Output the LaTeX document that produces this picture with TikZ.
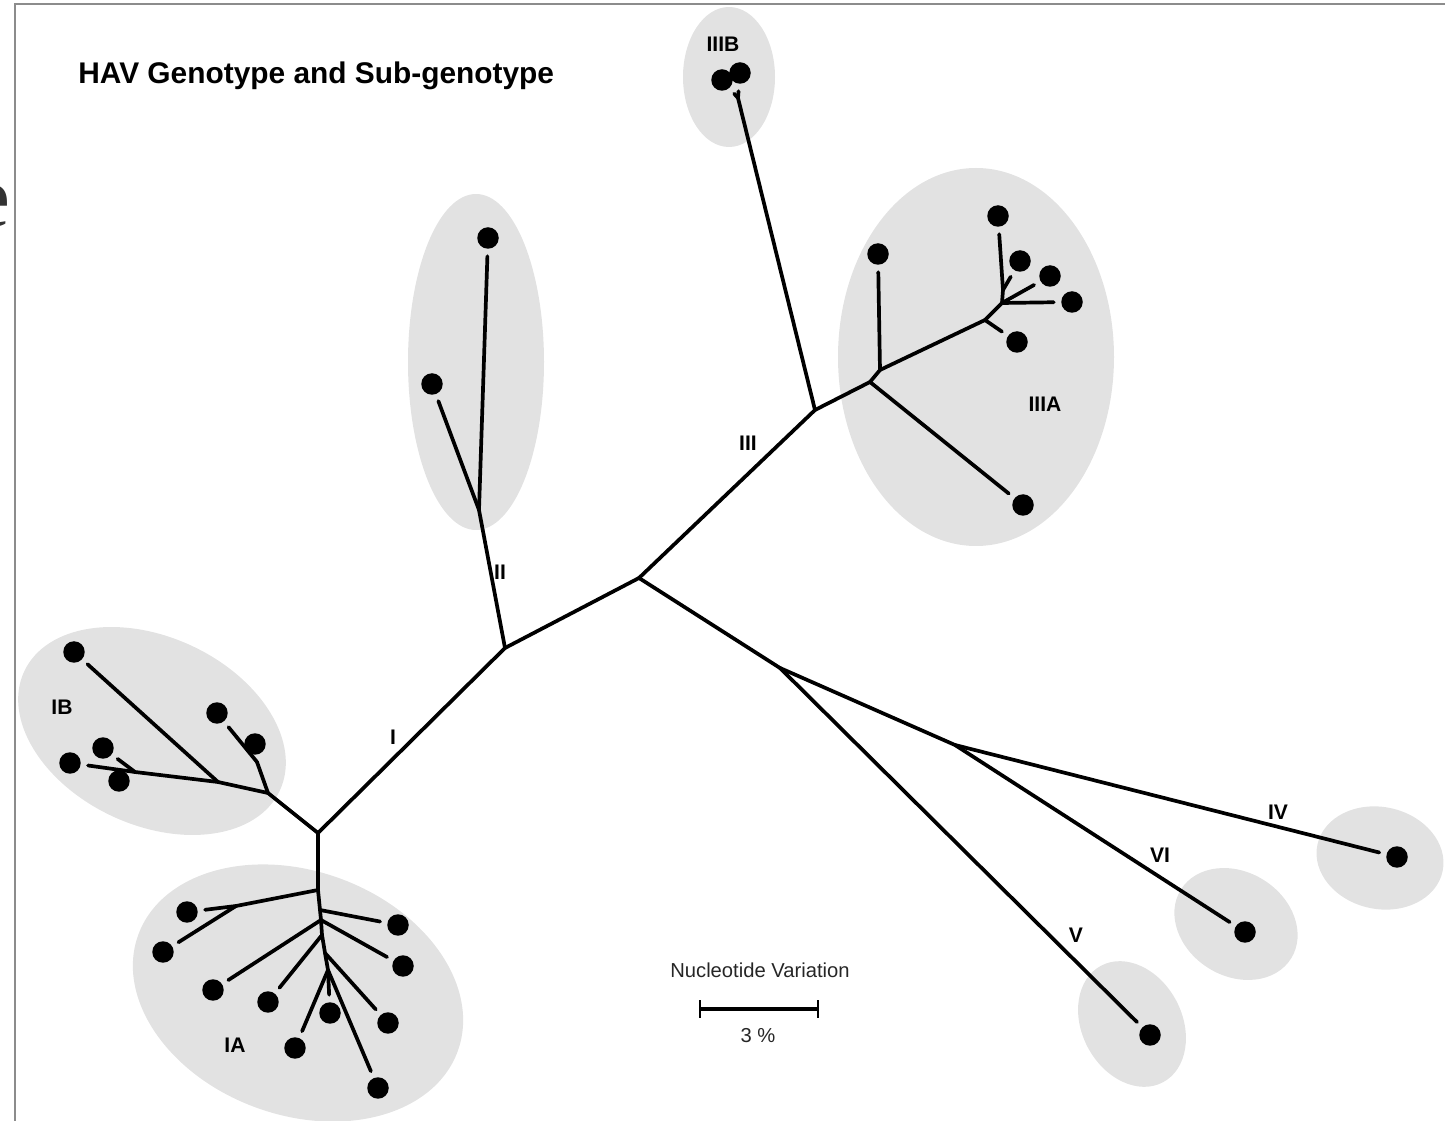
\documentclass[tikz,border=0pt]{standalone}
\usepackage{fontspec}
\setmainfont{Liberation Sans}
\newfontfamily\serifedge{Liberation Serif}
\definecolor{cladegray}{RGB}{226,226,226}
\definecolor{framegray}{RGB}{140,140,140}
\begin{document}
\begin{tikzpicture}[x=0.02cm,y=-0.02cm,
  clade/.style={fill=cladegray,draw=none},
  branch/.style={line width=0.074cm,black,line cap=round,line join=round},
  leaf/.style={circle,fill=black,inner sep=0pt,minimum size=0.43cm,outer sep=0.15cm},
  lab/.style={font=\bfseries\fontsize{12}{14}\selectfont,inner sep=0pt},
  note/.style={font=\fontsize{11.5}{13}\selectfont,inner sep=0pt,text=black!85},
  framerule/.style={draw=framegray,line width=0.05cm}]
\useasboundingbox (0,0) rectangle (1445,1121);

% frame
\draw[framerule] (15,1121) -- (15,4) -- (1445,4);
\begin{scope}
\clip (0,0) rectangle (14,1121);
\node[anchor=base east,inner sep=0pt,font=\serifedge\fontsize{50}{54}\selectfont,text=black!80] (edgee) at (11,227) {e};
\end{scope}

% clade shading
\fill[clade] (729,77) ellipse [x radius=46,y radius=70];
\fill[clade] (476,362) ellipse [x radius=68,y radius=168];
\fill[clade] (976,357) ellipse [x radius=138,y radius=189];
\fill[clade,rotate around={-25:(152,731)}] (152,731) ellipse [x radius=141,y radius=94];
\fill[clade,rotate around={-20:(298,993)}] (298,993) ellipse [x radius=170,y radius=122];
\fill[clade,rotate around={-12:(1380,858)}] (1380,858) ellipse [x radius=64,y radius=51];
\fill[clade,rotate around={-32:(1236,924)}] (1236,924) ellipse [x radius=65,y radius=52];
\fill[clade,rotate around={-62:(1132,1024)}] (1132,1024) ellipse [x radius=66,y radius=50];

% junctions
\coordinate (R1) at (318,833);
\coordinate (A) at (505,648);
\coordinate (C) at (639,578);
\coordinate (D) at (815,410);
\coordinate (IIj) at (479,510);
\coordinate (IIIBj) at (738,98);
\coordinate (D2) at (870,382);
\coordinate (D3) at (880,370);
\coordinate (D4) at (985,320);
\coordinate (D5) at (1002,303);
\coordinate (D6) at (1003,290);
\coordinate (E) at (780,668);
\coordinate (F) at (955,745);
\coordinate (IB1) at (268,793);
\coordinate (IB2) at (257,762);
\coordinate (IB3) at (218,782);
\coordinate (IB4) at (135,772);
\coordinate (s1) at (318,890);
\coordinate (s2) at (320,910);
\coordinate (s3) at (321,920);
\coordinate (s4) at (322,935);
\coordinate (s5) at (325,953);
\coordinate (s6) at (328,970);
\coordinate (ja) at (236,906);

% leaves
\node[leaf] (IIIB1) at (722,80) {};
\node[leaf] (IIIB2) at (740,73) {};
\node[leaf] (II1) at (488,238) {};
\node[leaf] (II2) at (432,384) {};
\node[leaf] (IIIA1) at (878,254) {};
\node[leaf] (IIIA2) at (998,216) {};
\node[leaf] (IIIA3) at (1020,261) {};
\node[leaf] (IIIA4) at (1050,276) {};
\node[leaf] (IIIA5) at (1072,302) {};
\node[leaf] (IIIA6) at (1017,342) {};
\node[leaf] (IIIA7) at (1023,505) {};
\node[leaf] (IV1) at (1397,857) {};
\node[leaf] (VI1) at (1245,932) {};
\node[leaf] (V1) at (1150,1035) {};
\node[leaf] (IB_1) at (74,652) {};
\node[leaf] (IB_2) at (217,713) {};
\node[leaf] (IB_3) at (255,744) {};
\node[leaf] (IB_4) at (103,748) {};
\node[leaf] (IB_5) at (70,763) {};
\node[leaf] (IB_6) at (119,781) {};
\node[leaf] (a1) at (187,912) {};
\node[leaf] (a2) at (163,952) {};
\node[leaf] (a3) at (398,925) {};
\node[leaf] (a4) at (403,966) {};
\node[leaf] (a5) at (213,990) {};
\node[leaf] (a6) at (268,1002) {};
\node[leaf] (a7) at (388,1023) {};
\node[leaf] (a8) at (295,1048) {};
\node[leaf] (a9) at (330,1013) {};
\node[leaf] (a10) at (378,1088) {};

% backbone
\draw[branch] (R1) -- (A);
\draw[branch] (A) -- (C);
\draw[branch] (C) -- (D);
\draw[branch] (A) -- (IIj);
\draw[branch] (C) -- (E);
\draw[branch] (E) -- (F);
% II
\draw[branch] (IIj) -- (II1);
\draw[branch] (IIj) -- (II2);
% III
\draw[branch] (D) -- (IIIBj);
\draw[branch] (IIIBj) -- (IIIB1);
\draw[branch] (IIIBj) -- (IIIB2);
\draw[branch] (D) -- (D2);
\draw[branch] (D2) -- (D3);
\draw[branch] (D2) -- (IIIA7);
\draw[branch] (D3) -- (IIIA1);
\draw[branch] (D3) -- (D4);
\draw[branch] (D4) -- (IIIA6);
\draw[branch] (D4) -- (D5);
\draw[branch] (D5) -- (IIIA5);
\draw[branch] (D5) -- (IIIA4);
\draw[branch] (D5) -- (D6);
\draw[branch] (D6) -- (IIIA3);
\draw[branch] (D6) -- (IIIA2);
% IV V VI
\draw[branch] (E) -- (V1);
\draw[branch] (F) -- (IV1);
\draw[branch] (F) -- (VI1);
% IB
\draw[branch] (R1) -- (IB1);
\draw[branch] (IB1) -- (IB2);
\draw[branch] (IB2) -- (IB_2);
\draw[branch] (IB2) -- (IB_3);
\draw[branch] (IB1) -- (IB3);
\draw[branch] (IB3) -- (IB_1);
\draw[branch] (IB3) -- (IB4);
\draw[branch] (IB4) -- (IB_5);
\draw[branch] (IB4) -- (IB_4);
\draw[branch] (IB4) -- (IB_6);
% IA
\draw[branch] (R1) -- (s1) -- (s2) -- (s3) -- (s4) -- (s5) -- (s6);
\draw[branch] (s1) -- (ja);
\draw[branch] (ja) -- (a1);
\draw[branch] (ja) -- (a2);
\draw[branch] (s2) -- (a3);
\draw[branch] (s3) -- (a4);
\draw[branch] (s3) -- (a5);
\draw[branch] (s4) -- (a6);
\draw[branch] (s5) -- (a7);
\draw[branch] (s6) -- (a8);
\draw[branch] (s6) -- (a9);
\draw[branch] (s6) -- (a10);

% labels
\node[anchor=base west,inner sep=0pt,font=\bfseries\fontsize{17}{20}\selectfont] (title) at (78,84) {HAV Genotype and Sub-genotype};
\node[lab] (tIB) at (62,707) {IB};
\node[lab] (tIA) at (235,1045) {IA};
\node[lab] (tI) at (393,737) {I};
\node[lab] (tII) at (500,572) {II};
\node[lab] (tIII) at (748,443) {III};
\node[lab] (tIIIA) at (1045,404) {IIIA};
\node[lab] (tIIIB) at (723,44) {IIIB};
\node[lab] (tIV) at (1278,812) {IV};
\node[lab] (tVI) at (1160,855) {VI};
\node[lab] (tV) at (1076,935) {V};

% scale bar
\node[note] (nv) at (760,970) {Nucleotide Variation};
\coordinate (sb1) at (700,1009);
\coordinate (sb2) at (818,1009);
\draw[line width=0.065cm] (sb1) -- (sb2);
\draw[line width=0.05cm] ([yshift=0.18cm]sb1) -- ([yshift=-0.18cm]sb1);
\draw[line width=0.05cm] ([yshift=0.18cm]sb2) -- ([yshift=-0.18cm]sb2);
\node[note] (pct) at (758,1036) {3 \%};
\end{tikzpicture}
\end{document}
